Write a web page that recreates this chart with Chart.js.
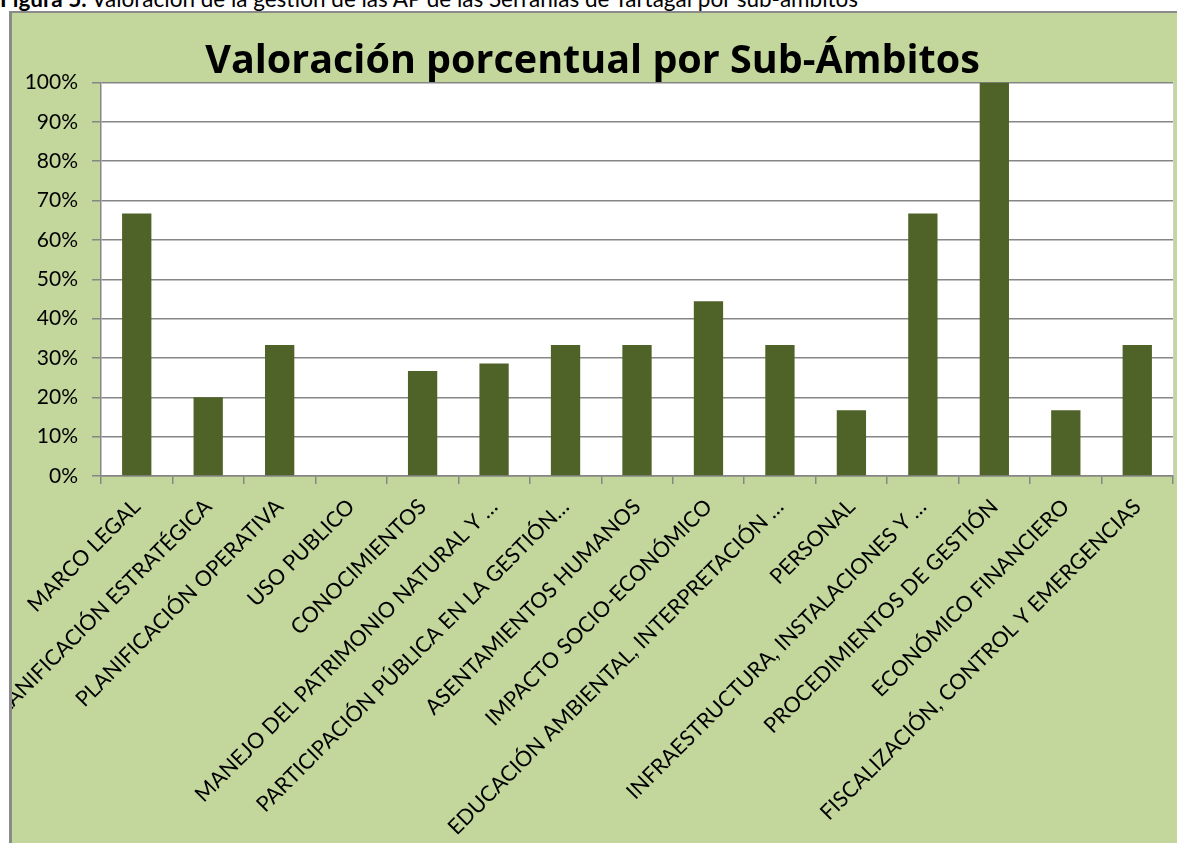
<!DOCTYPE html>
<html>
<head>
<meta charset="utf-8">
<script src="https://cdn.jsdelivr.net/npm/chart.js@4/dist/chart.umd.min.js"></script>
<style>
    body { margin: 0; background: #fff; overflow: hidden; width: 1177px; height: 843px; position: relative; }
    #caption { position: absolute; left: 0; top: -15px; font-family: Lato, sans-serif; font-size: 22.5px; color: #000; white-space: nowrap; }
    #frame { position: absolute; left: 9px; top: 11px; width: 1180px; height: 850px; background: #c3d69b; border-left: 3px solid #8a8a8a; border-top: 2px solid #8a8a8a; }
    #box { position: absolute; left: 0; top: 0; width: 1165px; height: 832px; }
</style>
</head>
<body>
<div id="caption"><b>Figura 5.</b> Valoración de la gestión de las AP de las Serranías de Tartagal por sub-ámbitos</div>
<div id="frame">
    <div id="box"><canvas id="barChart"></canvas></div>
</div>
<script>
const categories = [
    'MARCO LEGAL',
    'PLANIFICACIÓN ESTRATÉGICA',
    'PLANIFICACIÓN OPERATIVA',
    'USO PUBLICO',
    'CONOCIMIENTOS',
    'MANEJO DEL PATRIMONIO NATURAL Y …',
    'PARTICIPACIÓN PÚBLICA EN LA GESTIÓN…',
    'ASENTAMIENTOS HUMANOS',
    'IMPACTO SOCIO-ECONÓMICO',
    'EDUCACIÓN AMBIENTAL, INTERPRETACIÓN …',
    'PERSONAL',
    'INFRAESTRUCTURA, INSTALACIONES Y …',
    'PROCEDIMIENTOS DE GESTIÓN',
    'ECONÓMICO FINANCIERO',
    'FISCALIZACIÓN, CONTROL Y EMERGENCIAS'
];
const valores = [66.7, 20, 33.3, 0, 26.7, 28.6, 33.3, 33.3, 44.4, 33.3, 16.7, 66.7, 100, 16.7, 33.3];
const yTicks = [0, 10, 20, 30, 40, 50, 60, 70, 80, 90, 100];

const gridGray = '#868686';

// white plot area like the Excel chart
const plotBackground = {
    id: 'plotBackground',
    beforeDraw(chart) {
        const { ctx, chartArea } = chart;
        ctx.save();
        ctx.fillStyle = '#ffffff';
        ctx.fillRect(chartArea.left, chartArea.top, chartArea.right - chartArea.left, chartArea.bottom - chartArea.top);
        ctx.strokeStyle = '#d0d0d0';
        ctx.lineWidth = 1;
        ctx.beginPath();
        ctx.moveTo(chartArea.right + 0.5, chartArea.top);
        ctx.lineTo(chartArea.right + 0.5, chartArea.bottom);
        ctx.stroke();
        ctx.restore();
    }
};

const ctx = document.getElementById('barChart').getContext('2d');

const chart = new Chart(ctx, {
    type: 'bar',
    data: {
        labels: categories,
        datasets: [{
            label: 'Valoración',
            data: valores,
            backgroundColor: '#4f6228',
            borderWidth: 0,
            barPercentage: 0.41,
            categoryPercentage: 1
        }]
    },
    options: {
        responsive: true,
        maintainAspectRatio: false,
        animation: false,
        layout: {
            padding: { left: 0, right: 4, top: 0, bottom: 0 }
        },
        scales: {
            x: {
                offset: true,
                grid: {
                    display: true,
                    offset: true,
                    drawOnChartArea: false,
                    drawTicks: true,
                    tickLength: 8,
                    color: gridGray,
                    lineWidth: 1.5
                },
                border: { color: gridGray, width: 1.5 },
                ticks: {
                    autoSkip: false,
                    minRotation: 45,
                    maxRotation: 45,
                    padding: 10,
                    color: '#000',
                    font: { family: 'Lato', size: 21.5 }
                },
                afterFit(scale) {
                    scale.height = 369;
                    scale.paddingLeft = 0;
                    scale.paddingRight = 0;
                }
            },
            y: {
                min: 0,
                max: 100,
                afterBuildTicks(scale) {
                    scale.ticks = yTicks.map(v => ({ value: v }));
                },
                grid: {
                    color: gridGray,
                    lineWidth: 1.5,
                    drawTicks: true,
                    tickLength: 9
                },
                border: { color: gridGray, width: 1.5 },
                ticks: {
                    padding: 14,
                    color: '#000',
                    font: { family: 'Lato', size: 21 },
                    callback: function(value) {
                        return value + '%';
                    }
                },
                afterFit(scale) {
                    scale.width = 89;
                }
            }
        },
        plugins: {
            legend: { display: false },
            tooltip: { enabled: false },
            title: {
                display: true,
                text: 'Valoración porcentual por Sub-Ámbitos',
                color: '#000',
                font: { family: 'Open Sans', size: 39.5, weight: 'bold', lineHeight: 1.0 },
                padding: { top: 29, bottom: 1 }
            }
        }
    },
    plugins: [plotBackground]
});
</script>
</body>
</html>
